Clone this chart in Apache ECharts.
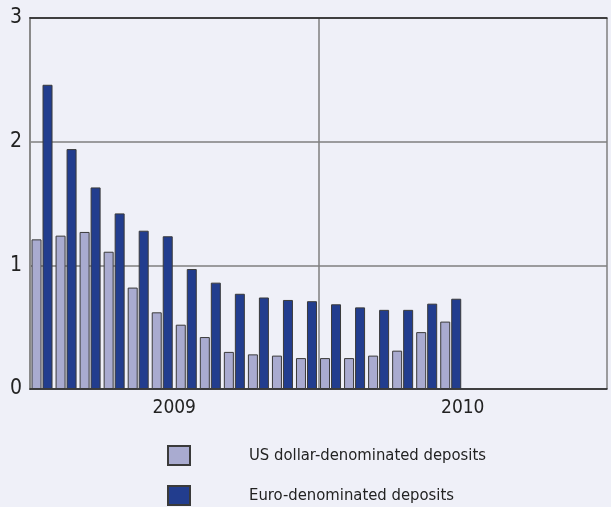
<!DOCTYPE html>
<html>
<head>
<meta charset="utf-8">
<script src="https://cdn.jsdelivr.net/npm/echarts@6/dist/echarts.min.js"></script>
<style>
html,body{margin:0;padding:0;background:#eff0f8;}
#chart{width:611px;height:507px;}
</style>
</head>
<body>
<div id="chart"></div>
<script>
var months = ['Jan 2009','Feb 2009','Mar 2009','Apr 2009','May 2009','Jun 2009','Jul 2009','Aug 2009','Sep 2009','Oct 2009','Nov 2009','Dec 2009',
              'Jan 2010','Feb 2010','Mar 2010','Apr 2010','May 2010','Jun 2010','Jul 2010','Aug 2010','Sep 2010','Oct 2010','Nov 2010','Dec 2010'];
var usdDeposits = [1.21, 1.24, 1.27, 1.11, 0.82, 0.62, 0.52, 0.42, 0.30, 0.28, 0.27, 0.25,
                   0.25, 0.25, 0.27, 0.31, 0.46, 0.545, null, null, null, null, null, null];
var eurDeposits = [2.46, 1.94, 1.63, 1.42, 1.28, 1.235, 0.97, 0.86, 0.77, 0.74, 0.72, 0.71,
                   0.685, 0.66, 0.64, 0.64, 0.69, 0.73, null, null, null, null, null, null];
var yearLabels = {6: '2009', 18: '2010'};
var seriesNames = ['US dollar-denominated deposits', 'Euro-denominated deposits'];

var FONT = '"Liberation Sans Narrow", "DejaVu Sans Condensed", "Roboto Condensed", "Liberation Sans", sans-serif';

function legendFor(name, top) {
  return {
    orient: 'horizontal',
    left: 167,
    top: top,
    padding: 0,
    itemWidth: 22,
    itemHeight: 19,
    icon: 'rect',
    selectedMode: false,
    textStyle: {fontFamily: FONT, fontSize: 16.5, color: '#222', padding: [0, 0, 0, 54]},
    data: [name]
  };
}

var chart = echarts.init(document.getElementById('chart'), null, {renderer: 'canvas'});
chart.setOption({
  backgroundColor: '#eff0f8',
  animation: false,
  grid: {left: 30, right: 4, top: 18, bottom: 118},
  legend: [legendFor(seriesNames[0], 445), legendFor(seriesNames[1], 485)],
  xAxis: [
    {
      type: 'category',
      data: months,
      position: 'bottom',
      axisLine: {show: true, lineStyle: {color: '#222', width: 1.5}},
      axisTick: {show: false},
      axisLabel: {show: false},
      splitLine: {show: false}
    },
    {
      type: 'value',
      min: 0, max: 24, interval: 6,
      position: 'bottom',
      axisLine: {show: false},
      axisTick: {show: false},
      splitLine: {show: false},
      axisLabel: {
        show: true, margin: 10, fontFamily: FONT, fontSize: 19, color: '#222',
        formatter: function (v) { return yearLabels[v] || ''; }
      }
    },
    {
      type: 'category',
      data: months,
      position: 'top',
      axisLine: {show: true, lineStyle: {color: '#222', width: 1.5}},
      axisTick: {show: false},
      axisLabel: {show: false},
      splitLine: {show: false}
    },
    {
      type: 'value',
      min: 0, max: 24, interval: 12,
      position: 'top',
      show: true,
      axisLine: {show: false},
      axisTick: {show: false},
      axisLabel: {show: false},
      splitLine: {show: true, lineStyle: {color: '#7f7f7f', width: 1.5}}
    }
  ],
  yAxis: [
    {
      type: 'value',
      min: 0, max: 3, interval: 1,
      axisLine: {show: true, lineStyle: {color: '#222', width: 1.5}},
      axisTick: {show: false},
      axisLabel: {fontFamily: FONT, fontSize: 21, color: '#222', margin: 8},
      splitLine: {show: true, lineStyle: {color: '#7f7f7f', width: 1.5}}
    },
    {
      type: 'value',
      min: 0, max: 3, interval: 1,
      position: 'right',
      axisLine: {show: true, lineStyle: {color: '#8a8a8a', width: 2}},
      axisTick: {show: false},
      axisLabel: {show: false},
      splitLine: {show: false}
    }
  ],
  series: [
    {
      name: seriesNames[0],
      type: 'bar',
      data: usdDeposits,
      barWidth: 10,
      barGap: '10%',
      itemStyle: {color: '#a9abd0', borderColor: '#3a3a3a', borderWidth: 1}
    },
    {
      name: seriesNames[1],
      type: 'bar',
      data: eurDeposits,
      barWidth: 10,
      barGap: '10%',
      itemStyle: {color: '#223d8e', borderColor: '#3a3a3a', borderWidth: 1}
    }
  ]
});
</script>
</body>
</html>
